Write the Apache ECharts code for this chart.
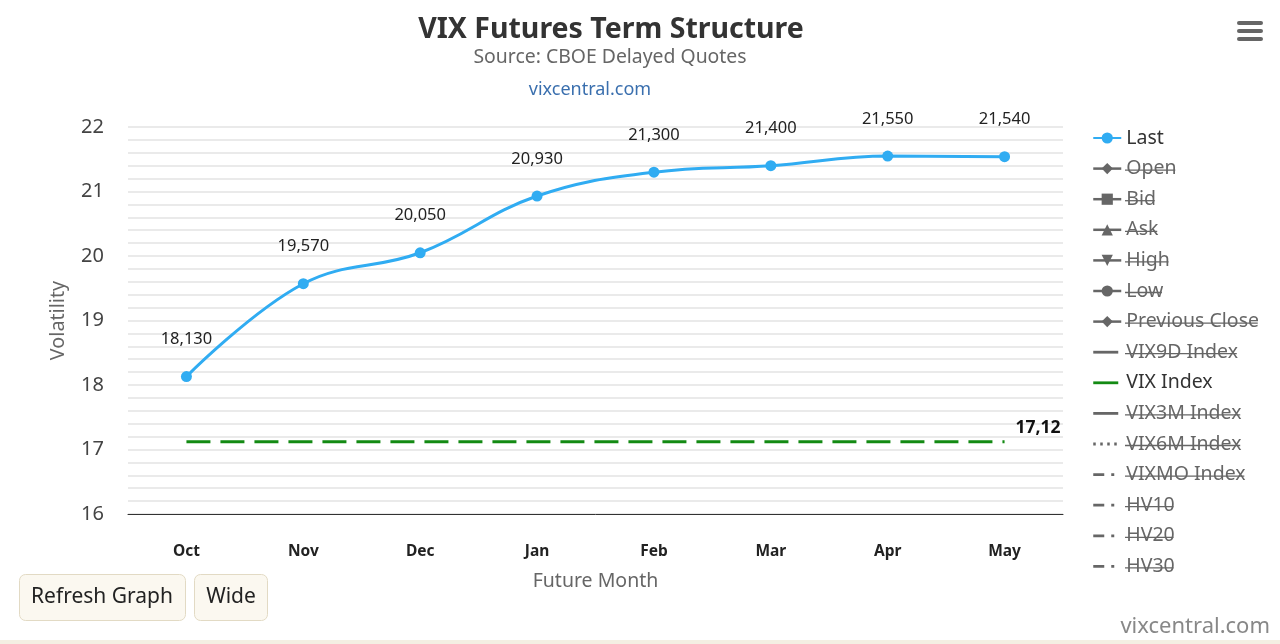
<!DOCTYPE html>
<html>
<head>
<meta charset="utf-8">
<script src="https://cdn.jsdelivr.net/npm/echarts@6/dist/echarts.min.js"></script>
<style>
html,body{margin:0;padding:0;background:#fff;}
#c{width:1280px;height:644px;}
</style>
</head>
<body>
<div id="c"></div>
<script>
var categories = ['Oct','Nov','Dec','Jan','Feb','Mar','Apr','May'];
var lastValues = [18.13, 19.57, 20.05, 20.93, 21.30, 21.40, 21.55, 21.54];
var vixIndexValues = [17.12, 17.12, 17.12, 17.12, 17.12, 17.12, 17.12, 17.12];
var yTicks = [16, 17, 18, 19, 20, 21, 22];
var legendNames = ['Last','Open','Bid','Ask','High','Low','Previous Close','VIX9D Index','VIX Index','VIX3M Index','VIX6M Index','VIXMO Index','HV10','HV20','HV30'];
var visibleNames = ['Last','VIX Index'];

var FONT = '"Noto Sans", "Open Sans", sans-serif';
var chart = echarts.init(document.getElementById('c'));

var gray = '#666';
var symbolMap = {
  'Open': 'diamond', 'Bid': 'rect', 'Ask': 'triangle',
  'High': 'path://M0,0 L10,0 L5,9 Z', 'Low': 'circle', 'Previous Close': 'diamond'
};

// legend icon paths for line-only items (28 x 14 box)
function barPath(segs) {
  return 'path://M0,0 M28,14 ' + segs.map(function (s) {
    return 'M' + s[0] + ',5.6 H' + s[1] + ' V8.4 H' + s[0] + ' Z';
  }).join(' ');
}
var solidIcon = barPath([[0, 25]]);
var dotIcon = barPath([[0, 2.5], [7, 9.5], [14, 16.5], [21, 23.5]]);
var dashDotIcon = barPath([[0, 11], [18, 21]]);
var iconMap = {
  'VIX9D Index': solidIcon, 'VIX Index': solidIcon, 'VIX3M Index': solidIcon,
  'VIX6M Index': dotIcon, 'VIXMO Index': dashDotIcon, 'HV10': dashDotIcon, 'HV20': dashDotIcon, 'HV30': dashDotIcon
};

var series = [
  {
    name: 'Last', type: 'line', data: lastValues, smooth: 0.4,
    symbol: 'circle', symbolSize: 11,
    lineStyle: { color: '#30acf2', width: 3 },
    itemStyle: { color: '#30acf2' },
    label: {
      show: true, position: 'top', distance: 23, color: '#222', fontSize: 16.5, fontFamily: FONT,
      formatter: function (p) { return p.value.toFixed(3).replace('.', ','); }
    },
    z: 5
  },
  {
    name: 'VIX Index', type: 'line', data: vixIndexValues,
    symbol: 'none',
    lineStyle: { color: '#138a13', width: 3, type: [24, 10] },
    itemStyle: { color: '#138a13' },
    endLabel: {
      show: true, color: '#111', fontWeight: 'bold', fontSize: 17.5, fontFamily: FONT,
      offset: [3, -14],
      formatter: function (p) { return p.value.toFixed(2).replace('.', ','); }
    },
    z: 4
  }
];
legendNames.forEach(function (n) {
  if (visibleNames.indexOf(n) >= 0) return;
  series.push({
    name: n, type: 'line', data: [],
    symbol: symbolMap[n] || 'none', symbolSize: 8,
    lineStyle: { color: gray, width: 2 },
    itemStyle: { color: gray }
  });
});

var selected = {};
legendNames.forEach(function (n) { selected[n] = visibleNames.indexOf(n) >= 0; });

var legendData = legendNames.map(function (n) {
  var d = { name: n };
  if (iconMap[n]) d.icon = iconMap[n];
  return d;
});

var LEG_LEFT = 1092, LEG_TOP = 128, ITEM_W = 28, LINE_H = 20, GAP = 10.6, LEG_FS = 19.5;

// strike-through lines for hidden legend items
var mctx = document.createElement('canvas').getContext('2d');
mctx.font = LEG_FS + 'px ' + FONT;
var graphics = [];
legendNames.forEach(function (n, i) {
  if (selected[n]) return;
  var w = mctx.measureText(n).width;
  var cy = LEG_TOP + i * (LINE_H + GAP) + LINE_H / 2 + 1.5;
  var x0 = LEG_LEFT + ITEM_W + 5;
  graphics.push({
    type: 'line', silent: true, z: 100,
    shape: { x1: x0, y1: cy, x2: x0 + w, y2: cy },
    style: { stroke: '#666', lineWidth: 1.3 }
  });
});

// titles
graphics.push(
  { type: 'text', x: 611, y: 30, style: { text: 'VIX Futures Term Structure', font: 'bold 28.5px ' + FONT, fill: '#333', textAlign: 'center', textVerticalAlign: 'middle' } },
  { type: 'text', x: 610, y: 57, style: { text: 'Source: CBOE Delayed Quotes', font: '19.4px ' + FONT, fill: '#666', textAlign: 'center', textVerticalAlign: 'middle' } },
  { type: 'text', x: 590, y: 90, style: { text: 'vixcentral.com', font: '18px ' + FONT, fill: '#3a6fae', textAlign: 'center', textVerticalAlign: 'middle' } },
  // hamburger
  { type: 'rect', shape: { x: 1237, y: 21, width: 26, height: 4, r: 2 }, style: { fill: '#666' } },
  { type: 'rect', shape: { x: 1237, y: 29, width: 26, height: 4, r: 2 }, style: { fill: '#666' } },
  { type: 'rect', shape: { x: 1237, y: 37, width: 26, height: 4, r: 2 }, style: { fill: '#666' } },
  // buttons
  { type: 'rect', shape: { x: 19.5, y: 574.5, width: 166, height: 46, r: 6 }, style: { fill: '#fbf8f0', stroke: '#e2dac4', lineWidth: 1 } },
  { type: 'text', x: 102, y: 597, style: { text: 'Refresh Graph', font: '21px ' + FONT, fill: '#222', textAlign: 'center', textVerticalAlign: 'middle' } },
  { type: 'rect', shape: { x: 194.5, y: 574.5, width: 73, height: 46, r: 6 }, style: { fill: '#fbf8f0', stroke: '#e2dac4', lineWidth: 1 } },
  { type: 'text', x: 231, y: 597, style: { text: 'Wide', font: '21px ' + FONT, fill: '#222', textAlign: 'center', textVerticalAlign: 'middle' } },
  // credits
  { type: 'text', x: 1270, y: 627, style: { text: 'vixcentral.com', font: '22px ' + FONT, fill: '#888', textAlign: 'right', textVerticalAlign: 'middle' } },
  { type: 'rect', shape: { x: 0, y: 640, width: 1280, height: 4 }, style: { fill: '#f4efe3' } }
);

chart.setOption({
  animation: false,
  textStyle: { fontFamily: FONT },
  grid: { left: 128, right: 217, top: 127, bottom: 130, containLabel: false },
  xAxis: {
    type: 'category', data: categories, boundaryGap: true,
    name: 'Future Month', nameLocation: 'middle', nameGap: 57,
    nameTextStyle: { fontSize: 19.5, color: '#666', fontFamily: FONT },
    axisLine: { lineStyle: { color: '#333', width: 1 } },
    axisTick: { show: false },
    axisLabel: { fontSize: 15.5, fontWeight: 'bold', color: '#222', margin: 30, fontFamily: FONT },
    splitLine: { show: false }
  },
  yAxis: {
    type: 'value', min: yTicks[0], max: yTicks[yTicks.length - 1], interval: 1,
    name: 'Volatility', nameLocation: 'middle', nameGap: 60, nameRotate: 90,
    nameTextStyle: { fontSize: 19.8, color: '#666', fontFamily: FONT },
    axisLine: { show: false }, axisTick: { show: false },
    axisLabel: { fontSize: 20, color: '#444', margin: 24, fontFamily: FONT },
    splitLine: { lineStyle: { color: '#e3e3e3', width: 1.5 } },
    minorTick: { show: false, splitNumber: 5 },
    minorSplitLine: { show: true, lineStyle: { color: '#e3e3e3', width: 1.5 } }
  },
  legend: {
    orient: 'vertical', left: LEG_LEFT, top: LEG_TOP, padding: 0,
    itemWidth: ITEM_W, itemHeight: 14, itemGap: GAP,
    data: legendData, selected: selected,
    inactiveColor: '#666', inactiveBorderColor: '#666',
    lineStyle: { inactiveColor: '#666', inactiveWidth: 2.5 },
    textStyle: { fontSize: LEG_FS, color: '#333', fontFamily: FONT, lineHeight: LINE_H }
  },
  series: series,
  graphic: graphics
});
</script>
</body>
</html>
